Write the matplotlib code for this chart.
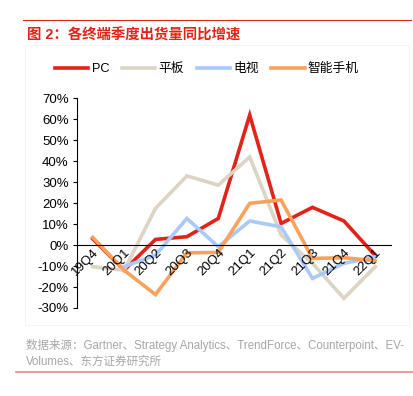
import matplotlib.pyplot as plt
from matplotlib.lines import Line2D
from matplotlib.patches import Rectangle

plt.rcParams['font.family'] = ['Liberation Sans', 'Noto Sans CJK SC']
plt.rcParams['axes.unicode_minus'] = False

quarters = ['19Q4', '20Q1', '20Q2', '20Q3', '20Q4', '21Q1', '21Q2', '21Q3', '21Q4', '22Q1']
pc = [3.0, -12.0, 2.7, 4.0, 12.7, 62.0, 10.3, 18.0, 11.5, -5.0]
tablet = [-10.3, -12.0, 17.5, 33.0, 28.6, 42.0, 4.8, -8.7, -25.4, -10.3]
tv = [None, -10.3, -4.8, 12.7, -0.8, 11.5, 8.7, -15.9, -8.7, -5.6]
phone = [3.7, -12.0, -23.6, -3.7, -3.5, 19.9, 21.5, -6.4, -6.0, -7.5]
y_ticks = [-30, -20, -10, 0, 10, 20, 30, 40, 50, 60, 70]

series = [('PC', pc, '#E2231A'), ('平板', tablet, '#DDD5C4'),
          ('电视', tv, '#A9C9F9'), ('智能手机', phone, '#F9A25C')]

fig = plt.figure(figsize=(4.14, 3.96), dpi=100)

# header / footer decorations
fig.add_artist(Line2D([23 / 414, 411 / 414], [1 - 20 / 396, 1 - 20 / 396], color='#E2231A', lw=0.8))
fig.text(27 / 414, 1 - 35 / 396, '图 2：各终端季度出货量同比增速', color='#E2231A',
         fontsize=10.4, fontweight='bold', va='center')
fig.add_artist(Rectangle((25 / 414, 1 - 325 / 396), 384 / 414, 280 / 396, fill=False,
                         ec='#F2F2F2', lw=0.6))
fig.text(26 / 414, 1 - 345 / 396,
         '数据来源：Gartner、Strategy Analytics、TrendForce、Counterpoint、EV-',
         color='#A6A6A6', fontsize=8.3, va='center')
fig.text(26 / 414, 1 - 362 / 396, 'Volumes、东方证券研究所', color='#A6A6A6', fontsize=8.3, va='center')
fig.add_artist(Line2D([16 / 414, 1.0], [1 - 372 / 396, 1 - 372 / 396], color='#E88A86', lw=1.2))

ax = fig.add_axes([77 / 414, 1 - 308 / 396, 314 / 414, 209.7 / 396])
# spine position first: it resets the ticks
ax.spines['bottom'].set_position(('data', 0))
ax.spines['top'].set_visible(False)
ax.spines['right'].set_visible(False)
ax.spines['left'].set_linewidth(0.8)
ax.spines['bottom'].set_linewidth(0.8)

x = list(range(len(quarters)))
handles = []
for name, vals, c in series:
    xs = [i for i, v in zip(x, vals) if v is not None]
    ys = [v for v in vals if v is not None]
    ln, = ax.plot(xs, ys, color=c, lw=2.6, solid_joinstyle='miter', label=name)
    handles.append(ln)

ax.set_xlim(-0.5, len(quarters) - 0.5)
ax.set_ylim(-30, 70)
ax.set_yticks(y_ticks)
ax.set_yticklabels(['{}%'.format(t) for t in y_ticks])
ax.set_xticks(x)
ax.set_xticklabels(quarters)
ax.tick_params(axis='x', length=0, pad=1, labelsize=9.5)
ax.tick_params(axis='y', length=3, width=0.8, direction='out', pad=3, labelsize=9.5)
plt.setp(ax.get_xticklabels(), rotation=45, ha='right', va='top', rotation_mode='anchor')
ax.set_axisbelow(False)

fig.legend(handles=handles, loc='center', bbox_to_anchor=(0.5, 1 - 69 / 396), ncol=4,
           frameon=False, fontsize=9.2, handlelength=2.6, handletextpad=0.25, columnspacing=1.0)

plt.savefig('out.png', dpi=100)
